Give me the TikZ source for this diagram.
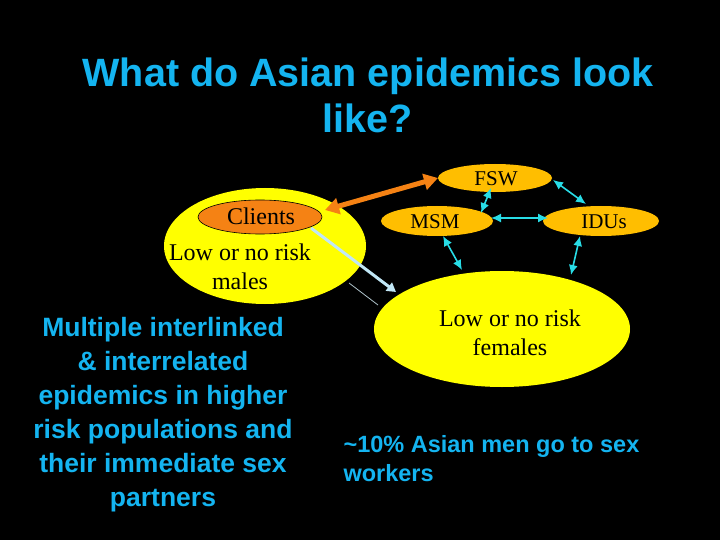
\documentclass[tikz,border=0pt]{standalone}
\usepackage{fontspec}
\setmainfont{Liberation Serif}
\newfontfamily\arial{Liberation Sans}
\usetikzlibrary{arrows.meta}
\definecolor{ttl}{RGB}{20,180,240}
\definecolor{yel}{RGB}{255,255,0}
\definecolor{org}{RGB}{255,190,0}
\definecolor{dorg}{RGB}{245,130,20}
\definecolor{cy}{RGB}{40,220,230}
\begin{document}
\begin{tikzpicture}[x=1pt,y=-1pt,
 cyarr/.style={cy,line width=1.6pt,{Latex[length=10pt,width=9pt]}-{Latex[length=10pt,width=9pt]}},
 serif/.style={font=\fontsize{24}{29}\selectfont,align=center},
 bold/.style={font=\arial\bfseries\fontsize{26.5}{34}\selectfont,align=center,text=ttl}]
\fill[black] (0,0) rectangle (720,540);
\useasboundingbox (0,0) rectangle (720,540);
\node[font=\arial\bfseries\fontsize{39.5}{46}\selectfont,text=ttl,align=center] (title) at (368,95) {What do Asian epidemics look\\like?};
\fill[yel] (265,246) ellipse [x radius=101, y radius=58];
\node[serif] (males) at (240,267) {Low or no risk\\males};
\fill[dorg,draw=black,line width=0.6pt] (260,217) ellipse [x radius=62, y radius=17];
\node[font=\fontsize{24}{26}\selectfont] (clients) at (261,216) {Clients};
\fill[yel] (502,329) ellipse [x radius=128, y radius=58];
\node[serif] (females) at (510,333) {Low or no risk\\females};
\fill[org] (495,178) ellipse [x radius=57, y radius=14];
\node[font=\fontsize{21}{23}\selectfont] (fsw) at (496,179) {FSW};
\fill[org] (437,221) ellipse [x radius=56, y radius=15];
\node[font=\fontsize{21}{23}\selectfont] (msm) at (435,222) {MSM};
\fill[org] (601,221) ellipse [x radius=58, y radius=15];
\node[font=\fontsize{21}{23}\selectfont] (idus) at (604,222) {IDUs};
\coordinate (c1) at (325,210); \coordinate (f1) at (438,178);
\draw[dorg,line width=5pt,{Triangle[length=14pt,width=16pt]}-{Triangle[length=14pt,width=16pt]}] (c1) -- (f1);
\coordinate (c2) at (311,228); \coordinate (fe1) at (396,292);
\draw[black!10!cyan!25,line width=3pt,-{Triangle[length=9pt,width=10pt]}] (c2) -- (fe1);
\coordinate (s1) at (349,283); \coordinate (s2) at (378,305);
\draw[cyan!25!gray!60,line width=0.8pt] (s1) -- (s2);
\coordinate (a1) at (491,188); \coordinate (a2) at (481,213);
\draw[cyarr] (a1) -- (a2);
\coordinate (b1) at (553,180); \coordinate (b2) at (586,204);
\draw[cyarr] (b1) -- (b2);
\coordinate (d1) at (491,218); \coordinate (d2) at (548,218);
\draw[cyarr] (d1) -- (d2);
\coordinate (e1) at (443,236); \coordinate (e2) at (462,270);
\draw[cyarr] (e1) -- (e2);
\coordinate (g1) at (580,236); \coordinate (g2) at (571,275);
\draw[cyarr] (g1) -- (g2);
\node[bold] (left) at (163,415) {Multiple interlinked\\\& interrelated\\epidemics in higher\\risk populations and\\their immediate sex\\partners};
\node[font=\arial\bfseries\fontsize{23.5}{29}\selectfont,text=ttl,align=left,anchor=west] (right) at (340,459) {\textasciitilde10\% Asian men go to sex\\workers};
\end{tikzpicture}
\end{document}
